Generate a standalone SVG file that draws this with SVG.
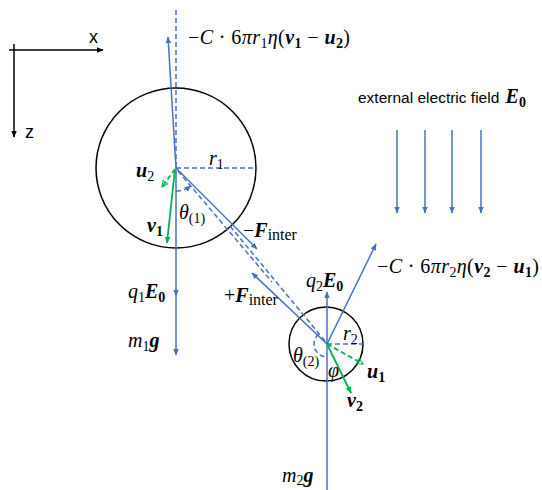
<svg xmlns="http://www.w3.org/2000/svg" width="542" height="490" viewBox="0 0 542 490">
<defs>
<style>
.b{stroke:#4472C4;stroke-width:1.5;fill:none}
.d{stroke-dasharray:5 3}
.g{stroke:#00B050;stroke-width:1.8;fill:none}
.k{stroke:#000;stroke-width:1.5;fill:none}
.m{font-family:"Liberation Serif",serif;font-size:20px;font-style:italic;fill:#000}
.bi{font-weight:bold}
.up{font-style:normal}
.s{font-size:14px}
.sans{font-family:"Liberation Sans",Arial,sans-serif;fill:#000}
</style>
<marker id="ab" viewBox="0 0 10 10" refX="9" refY="5" markerWidth="7" markerHeight="7" orient="auto" markerUnits="userSpaceOnUse"><path d="M0,1 L10,5 L0,9 z" fill="#4472C4"/></marker>
<marker id="ak" viewBox="0 0 10 10" refX="9" refY="5" markerWidth="7" markerHeight="7" orient="auto" markerUnits="userSpaceOnUse"><path d="M0,1 L10,5 L0,9 z" fill="#000"/></marker>
<marker id="ag" viewBox="0 0 10 10" refX="9" refY="5" markerWidth="7" markerHeight="7" orient="auto" markerUnits="userSpaceOnUse"><path d="M0,1 L10,5 L0,9 z" fill="#00B050"/></marker>
<marker id="ao" viewBox="0 0 12 12" refX="10" refY="6" markerWidth="8" markerHeight="8" orient="auto" markerUnits="userSpaceOnUse"><path d="M1,1.5 L10,6 L1,10.5 z" fill="none" stroke="#00B050" stroke-width="1.6"/></marker>
</defs>
<rect width="542" height="490" fill="#fff"/>

<g id="axes">
<line class="k" x1="9" y1="50" x2="103" y2="50" marker-end="url(#ak)"/>
<line class="k" x1="14" y1="44" x2="14" y2="137" marker-end="url(#ak)"/>
<text class="sans" x="89" y="43" font-size="18">x</text>
<text class="sans" x="25" y="138" font-size="18">z</text>
</g>

<g id="particle1">
<circle cx="176" cy="168" r="80" class="k"/>
</g>
<g id="particle2">
<circle cx="326" cy="344" r="37" class="k"/>
</g>

<g id="field">
<line class="b" x1="397" y1="130" x2="397" y2="213" marker-end="url(#ab)"/>
<line class="b" x1="425" y1="130" x2="425" y2="213" marker-end="url(#ab)"/>
<line class="b" x1="452" y1="130" x2="452" y2="213" marker-end="url(#ab)"/>
<line class="b" x1="481" y1="130" x2="481" y2="213" marker-end="url(#ab)"/>
<text x="358" y="103"><tspan class="sans" font-size="15.5">external electric field </tspan><tspan class="m bi" dx="2">E</tspan><tspan class="m bi up s" dy="4">0</tspan></text>
</g>

<g id="connectors">
<line class="b d" x1="176" y1="10" x2="176" y2="168"/>
<line class="b" x1="176" y1="168" x2="168" y2="37" marker-end="url(#ab)"/>
<line class="b d" x1="176" y1="168" x2="257" y2="168"/>
<line class="b" x1="176" y1="168" x2="257" y2="249" marker-end="url(#ab)"/>
<line class="b d" x1="178" y1="171" x2="272" y2="282"/>
<path class="b d" d="M176,191 A23,23 0 0 0 190.8,185.6" marker-end="url(#ab)"/>
<line class="b" x1="176" y1="168" x2="176" y2="296" marker-end="url(#ab)"/>
<line class="b" x1="176" y1="296" x2="176" y2="355" marker-end="url(#ab)"/>
<line class="g d" x1="175" y1="169" x2="162" y2="187" marker-end="url(#ao)"/>
<line class="g" x1="175" y1="169" x2="167" y2="243" marker-end="url(#ag)"/>
<line class="b d" x1="325" y1="341" x2="230" y2="226"/>
<line class="b" x1="327" y1="344" x2="252" y2="273" marker-end="url(#ab)"/>
<line class="b" x1="327" y1="344" x2="327" y2="292" marker-end="url(#ab)"/>
<line class="b" x1="327" y1="344" x2="327" y2="497" marker-end="url(#ab)"/>
<line class="b" x1="327" y1="344" x2="376" y2="244" marker-end="url(#ab)"/>
<line class="b d" x1="327" y1="344" x2="363" y2="344"/>
<path class="b d" d="M318.7,334 A13,13 0 0 0 327,357"/>
<line class="g d" x1="327" y1="344" x2="363" y2="364" marker-end="url(#ao)"/>
<line class="g" x1="327" y1="344" x2="351" y2="393" marker-end="url(#ag)"/>
</g>

<g id="labels">
<text class="m" x="188" y="44" textLength="162" lengthAdjust="spacing"><tspan class="up">−</tspan>C<tspan class="up"> · 6</tspan>πr<tspan class="up s" dy="4">1</tspan><tspan dy="-4">η</tspan><tspan class="up">(</tspan><tspan class="bi">v</tspan><tspan class="up bi s" dy="4">1</tspan><tspan class="up" dy="-4"> − </tspan><tspan class="bi">u</tspan><tspan class="up bi s" dy="4">2</tspan><tspan class="up" dy="-4">)</tspan></text>
<text class="m" x="209" y="165">r<tspan class="up s" dy="4">1</tspan></text>
<text class="m" x="136" y="177"><tspan class="bi">u</tspan><tspan class="up s" dy="4">2</tspan></text>
<text class="m" x="147" y="232"><tspan class="bi">v</tspan><tspan class="up bi s" dy="4">1</tspan></text>
<text class="m" x="179" y="219">θ<tspan class="up s" dy="4">(1)</tspan></text>
<text class="m" x="243" y="237"><tspan class="up">−</tspan><tspan class="bi">F</tspan><tspan class="up" font-size="16" dy="3">inter</tspan></text>
<text class="m" x="128" y="298">q<tspan class="up s" dy="4">1</tspan><tspan class="bi" dy="-4">E</tspan><tspan class="up bi s" dy="4">0</tspan></text>
<text class="m" x="128" y="347">m<tspan class="up s" dy="4">1</tspan><tspan class="bi" dy="-4">g</tspan></text>
<text class="m" x="224" y="302"><tspan class="up">+</tspan><tspan class="bi">F</tspan><tspan class="up" font-size="16" dy="3">inter</tspan></text>
<text class="m" x="306" y="287">q<tspan class="up s" dy="4">2</tspan><tspan class="bi" dy="-4">E</tspan><tspan class="up bi s" dy="4">0</tspan></text>
<text class="m" x="377" y="273" textLength="162" lengthAdjust="spacing"><tspan class="up">−</tspan>C<tspan class="up"> · 6</tspan>πr<tspan class="up s" dy="4">2</tspan><tspan dy="-4">η</tspan><tspan class="up">(</tspan><tspan class="bi">v</tspan><tspan class="up bi s" dy="4">2</tspan><tspan class="up" dy="-4"> − </tspan><tspan class="bi">u</tspan><tspan class="up bi s" dy="4">1</tspan><tspan class="up" dy="-4">)</tspan></text>
<text class="m" x="343" y="340">r<tspan class="up s" dy="4">2</tspan></text>
<text class="m" x="293" y="362">θ<tspan class="up s" dy="4">(2)</tspan></text>
<text class="m" x="328" y="377" fill="#404040">φ</text>
<text class="m" x="367" y="378"><tspan class="bi">u</tspan><tspan class="up bi s" dy="4">1</tspan></text>
<text class="m" x="347" y="407"><tspan class="bi">v</tspan><tspan class="up bi s" dy="4">2</tspan></text>
<text class="m" x="282" y="482">m<tspan class="up s" dy="3">2</tspan><tspan class="bi" dy="-3">g</tspan></text>
</g>
</svg>
